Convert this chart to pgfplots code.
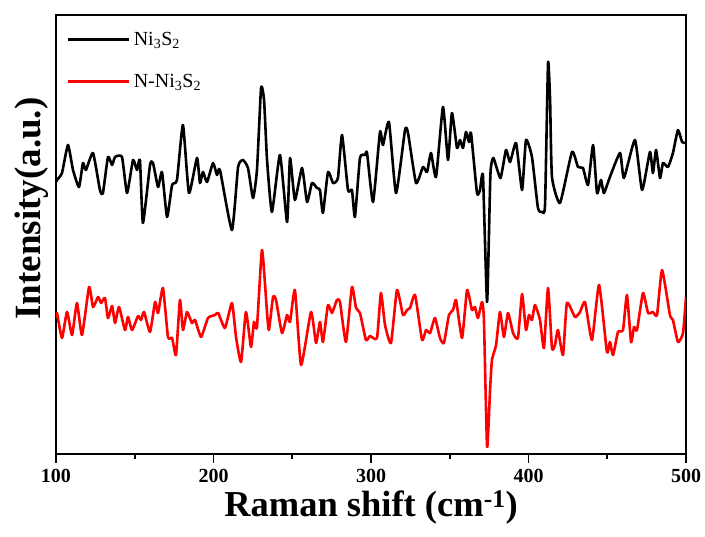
\documentclass[border=0pt]{standalone}
\usepackage{fontspec}
\setmainfont{Liberation Serif}
\usepackage{pgfplots}
\pgfplotsset{compat=1.18}

\pgfplotstableread{
x y
100.0 355
100.6 357
103.8 364
107.6 392
110.8 367
114.6 350
117.1 374
119.0 367
123.5 384
127.9 347
129.8 344
133.0 380
135.6 372
137.5 380
141.9 380
145.1 344
148.9 377
151.4 367
153.3 377
155.2 314
159.7 372
161.6 374
164.8 350
167.3 365
170.5 320
173.7 352
176.8 357
180.6 412
184.4 344
189.5 379
191.4 354
193.3 365
195.9 355
199.7 374
202.2 362
204.1 367
211.7 307
215.6 370
218.7 377
221.9 369
225.1 339
227.6 367
230.2 449
232.1 437
234.0 377
237.1 325
242.2 382
246.7 315
248.6 379
251.7 337
256.2 369
259.4 335
262.5 354
265.7 349
267.6 347
269.5 324
272.7 365
275.9 354
279.0 359
281.6 402
285.4 347
287.9 347
289.8 320
293.0 379
296.2 382
297.5 384
301.3 335
305.7 405
307.6 392
311.4 415
315.9 344
321.6 407
323.5 404
328.6 354
333.0 370
335.6 365
338.1 384
341.3 360
345.7 430
348.9 377
351.4 424
354.6 389
356.5 397
358.4 389
360.3 405
362.2 395
363.5 404
367.3 344
369.2 347
371.1 361
373.7 235
375.8 362
377.7 379
382.2 359
385.7 387
388.3 375
392.1 394
395.9 347
398.4 397
402.2 380
406.0 329
408.6 325
410.5 332
412.4 474
413.7 437
414.9 360
420.0 334
427.6 385
431.4 370
434.6 369
437.8 352
441.0 392
443.5 344
446.0 357
447.9 344
451.7 360
458.1 384
460.6 359
467.6 397
472.1 347
477.1 385
479.0 364
481.0 387
483.5 359
485.4 374
488.6 370
491.7 384
494.9 407
497.5 395
500.0 394
}\pure

\pgfplotstableread{
x y
100.0 219
100.6 224
103.8 199
107.0 225
110.2 202
113.3 234
116.5 202
121.0 250
123.5 230
126.7 240
128.6 234
131.1 239
133.0 219
135.6 231
137.5 214
140.0 230
143.8 207
145.7 220
148.3 207
152.1 221
154.0 217
155.9 225
159.7 205
162.9 235
164.8 224
167.9 249
171.1 200
173.7 199
176.2 182
178.7 237
180.6 207
183.2 225
186.3 214
188.3 217
192.1 200
196.5 219
201.0 222
203.0 224
207.3 209
211.7 234
214.3 200
217.5 175
220.6 225
223.8 190
225.7 215
227.6 210
230.8 287
234.0 224
235.2 207
237.8 240
239.7 237
243.5 204
246.7 222
248.6 215
251.7 247
255.6 172
261.9 225
265.1 194
267.6 215
269.5 195
272.7 232
275.2 224
278.4 237
280.3 235
284.1 195
287.9 250
290.5 229
293.0 224
296.8 197
299.4 201
303.8 199
306.3 244
308.9 212
312.7 194
316.5 247
320.3 222
322.9 227
324.8 229
328.0 242
332.4 197
334.9 207
337.5 204
340.6 219
343.8 199
346.3 194
349.5 222
352.1 227
354.0 237
357.8 199
361.0 247
364.1 227
366.0 230
367.9 219
370.5 235
371.7 217
373.7 90
375.6 147
376.8 177
379.4 192
381.9 225
384.4 200
387.0 224
390.2 204
393.3 199
395.9 243
398.4 207
400.3 222
402.2 217
404.1 232
407.3 217
409.8 189
412.4 249
414.9 189
416.8 192
418.7 207
421.9 182
424.4 234
429.5 220
432.7 225
435.9 235
440.3 197
444.8 252
449.8 185
451.7 195
453.7 182
456.8 205
460.0 207
462.5 242
465.1 195
467.0 210
468.9 207
472.7 244
475.9 224
479.0 225
481.6 222
484.8 267
489.8 222
491.7 217
494.9 195
498.1 204
500.0 240
}\doped

\begin{document}
\begin{tikzpicture}
\begin{axis}[
  scale only axis,
  width=630pt, height=439pt,
  xmin=100, xmax=500,
  ymin=83, ymax=522,
  axis line style={line width=1.6pt},
  xtick={100,200,300,400,500},
  minor x tick num=1,
  xtick pos=bottom,
  tick align=outside,
  major tick length=9pt,
  minor tick length=5pt,
  every tick/.style={line width=1.6pt, black},
  ytick=\empty,
  /pgf/number format/assume math mode=true,
  xticklabel style={font=\bfseries\fontsize{20}{24}\selectfont, yshift=-3pt},
  xlabel={Raman shift (cm\textsuperscript{-1})},
  ylabel={Intensity(a.u.)},
  xlabel style={font=\bfseries\fontsize{36.5}{44}\selectfont, at={(axis description cs:0.5,0)}, anchor=base, yshift=-63pt},
  ylabel style={font=\bfseries\fontsize{37}{44}\selectfont, at={(axis description cs:0,0.559)}, anchor=base, yshift=15pt},
  legend style={draw=none, fill=none, at={(axis description cs:0,1)}, anchor=north west,
    xshift=11pt, yshift=-14pt, font=\fontsize{20}{24}\selectfont, row sep=21pt,
    inner sep=0pt, nodes={inner sep=3pt}},
  legend cell align=left,
  legend image code/.code={\draw[#1] (0pt,0pt) -- (61pt,0pt);},
]
\addplot[black, line width=2.6pt, line join=round, smooth, tension=0.3] table {\pure};
\addlegendentry{Ni\textsubscript{3}S\textsubscript{2}}
\addplot[red, line width=2.6pt, line join=round, smooth, tension=0.3] table {\doped};
\addlegendentry{N-Ni\textsubscript{3}S\textsubscript{2}}
\end{axis}
\pgfresetboundingbox
\path (-56pt,-83pt) rectangle (649pt,454pt);
\end{tikzpicture}
\end{document}
